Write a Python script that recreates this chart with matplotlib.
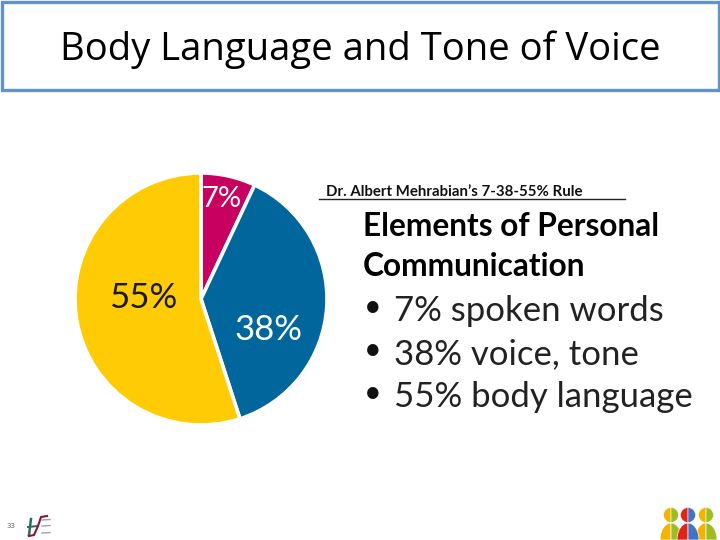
import numpy as np
import matplotlib
matplotlib.use("Agg")
import matplotlib.pyplot as plt
from matplotlib.patches import Rectangle, Wedge, Polygon

title = "Body Language and Tone of Voice"
shares = [7, 38, 55]
share_labels = ["7%", "38%", "55%"]
colors = ["#C8005F", "#00669C", "#FFCB05"]
label_colors = ["white", "white", "#1a1a1a"]
rule_heading = "Dr. Albert Mehrabian\u2019s 7-38-55% Rule"
panel_head = ["Elements of Personal", "Communication"]
panel_items = ["7% spoken words", "38% voice, tone", "55% body language"]
page_number = "33"

W, H = 720, 540
fig = plt.figure(figsize=(7.2, 5.4), dpi=100, facecolor="white")

bg = fig.add_axes([0, 0, 1, 1], zorder=1)
bg.set_xlim(0, W); bg.set_ylim(H, 0); bg.axis("off")

# title box
bg.add_patch(Rectangle((1.5, 1.5), 717, 88.5, fc="white", ec="#6292CC", lw=2.4))
bg.text(360, 50, title, fontsize=27.5, family="Open Sans", color="black", ha="center", va="center")

# pie
cx, cy, r = 201, 299, 126
pie_ax = fig.add_axes([(cx - r) / W, 1 - (cy + r) / H, 2 * r / W, 2 * r / H], zorder=2)
pie_ax.pie(shares, colors=colors, startangle=90, counterclock=False, radius=1,
           wedgeprops=dict(edgecolor="white", linewidth=2.6))
pie_ax.set_xlim(-1, 1); pie_ax.set_ylim(-1, 1)

top = fig.add_axes([0, 0, 1, 1], zorder=3)
top.set_xlim(0, W); top.set_ylim(H, 0); top.axis("off"); top.patch.set_alpha(0)
for lab, col, (x, y), fs in zip(share_labels, label_colors, [(221, 199), (269, 330), (143, 298)], [21, 25, 25]):
    top.text(x, y, lab, fontsize=fs, family="Lato", color=col, ha="center", va="center")

# right panel
bg.text(326, 192, rule_heading, fontsize=10.8, family="Lato", weight="bold", color="#111111", ha="left", va="center")
bg.plot([319, 625], [199, 199], color="#222222", lw=1)
for y, s in zip([226, 266], panel_head):
    bg.text(363, y, s, fontsize=22.8, family="Lato", weight="bold", color="black", ha="left", va="center")
for y, s in zip([311, 354, 397], panel_items):
    bg.text(373, y - 4, "\u2022", fontsize=22, family="Lato", color="#111111", ha="center", va="center")
    bg.text(394, y, s, fontsize=25, family="Lato", color="#222222", ha="left", va="center")

# footer
bg.text(11, 526, page_number, fontsize=5, color="#666666", ha="center", va="center")
bg.plot([31, 29], [519, 535], color="#2E6B5E", lw=1.8)
bg.plot([28, 38], [527, 526], color="#2E6B5E", lw=1.4)
bg.plot([47, 41, 38, 34, 29], [516, 517, 526, 535, 536], color="#8A1538", lw=1.5)
for y in [520, 526, 533]:
    bg.plot([42, 50], [y, y - 0.5], color="#9AA5A0", lw=1)

# people logo
def body(x, hw, t0, t1, color, z):
    t = np.radians(np.linspace(t0, t1, 25))
    pts = np.column_stack([x + hw * np.cos(t), 540 - 17 * np.sin(t)])
    pts = np.vstack([[x, 540], pts])
    bg.add_patch(Polygon(pts, closed=True, fc=color, ec="white", lw=0.5, zorder=z))

people = [(671, "#9DBE1E", "#F5B300", "#F5B300", "#9DBE1E", 11, 3),
          (706, "#9DBE1E", "#F5B300", "#F5B300", "#9DBE1E", 11, 3),
          (688, "#E2231A", "#4472C4", "#E2231A", "#4472C4", 11, 4)]
for x, hl, hr, bl, br, hw, z in people:
    bg.add_patch(Wedge((x, 515), 7.5, 90, 270, fc=hl if x == 688 else hr, ec="white", lw=0.4, zorder=z))
    bg.add_patch(Wedge((x, 515), 7.5, -90, 90, fc=hr if x == 688 else hl, ec="white", lw=0.4, zorder=z))
    body(x, hw, 90, 180, bl, z)
    body(x, hw, 0, 90, br, z)

fig.savefig("out.png", dpi=100, facecolor="white")
